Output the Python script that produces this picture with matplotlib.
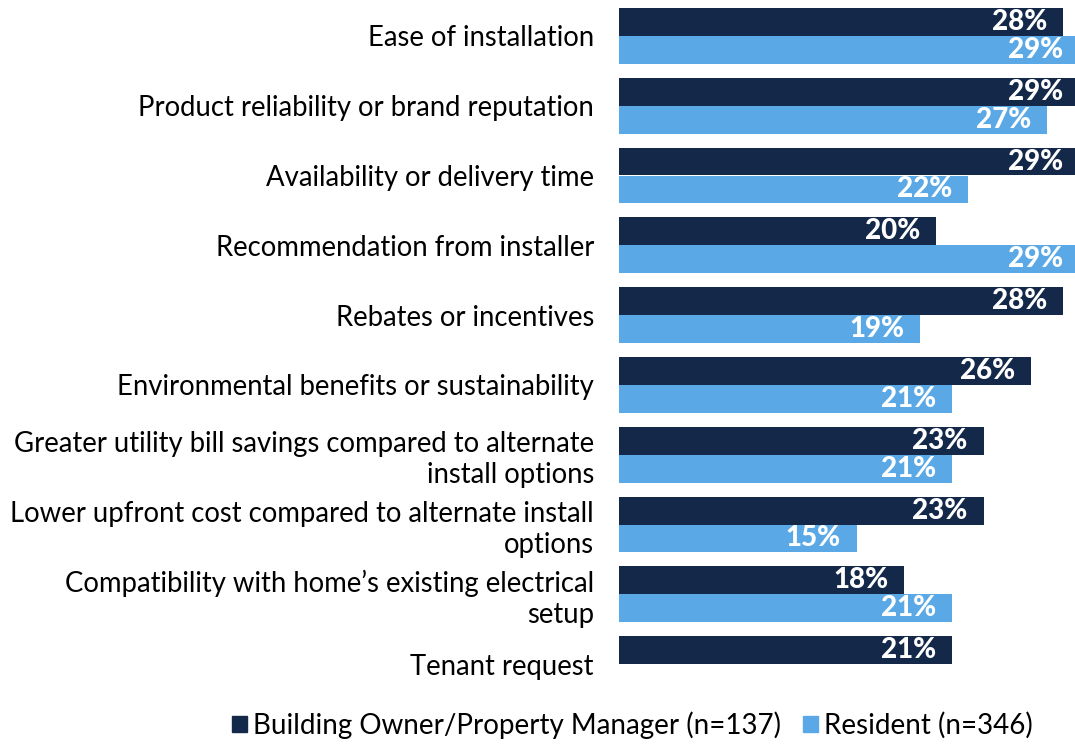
import numpy as np
import matplotlib.pyplot as plt
from matplotlib.patches import Patch

plt.rcParams["font.family"] = ["Lato", "DejaVu Sans"]

categories = [
    "Ease of installation",
    "Product reliability or brand reputation",
    "Availability or delivery time",
    "Recommendation from installer",
    "Rebates or incentives",
    "Environmental benefits or sustainability",
    "Greater utility bill savings compared to alternate\ninstall options",
    "Lower upfront cost compared to alternate install\noptions",
    "Compatibility with home\u2019s existing electrical\nsetup",
    "Tenant request",
]
owner = [28, 29, 29, 20, 28, 26, 23, 23, 18, 21]
resident = [29, 27, 22, 29, 19, 21, 21, 15, 21, None]

owner_label = "Building Owner/Property Manager (n=137)"
resident_label = "Resident (n=346)"
dark = "#14284a"
light = "#5aa9e6"

fig = plt.figure(figsize=(10.75, 7.44), dpi=100)
ax = fig.add_axes([619 / 1075, 1 - 699 / 744, 1 - 619 / 1075, 698 / 744])

y = np.arange(len(categories))
h = 0.4
ax.barh(y - h / 2, owner, height=h, color=dark)
res_y = [yy + h / 2 for yy, v in zip(y, resident) if v is not None]
res_v = [v for v in resident if v is not None]
ax.barh(res_y, res_v, height=h, color=light)

for yy, v in zip(y - h / 2, owner):
    ax.text(v - 1.0, yy, f"{v}%", ha="right", va="center", color="white",
            fontsize=20, fontweight="black")
for yy, v in zip(res_y, res_v):
    ax.text(v - 1.0, yy, f"{v}%", ha="right", va="center", color="white",
            fontsize=20, fontweight="black")

ax.set_xlim(0, 28.77)
ax.set_ylim(len(categories) - 0.5, -0.5)
ax.set_yticks(y)
ax.set_yticklabels(categories, fontsize=19.8, linespacing=1.23)
ax.tick_params(axis="y", length=0, pad=18)
ax.set_xticks([])
for s in ax.spines.values():
    s.set_visible(False)

handles = [Patch(color=dark, label=owner_label), Patch(color=light, label=resident_label)]
fig.legend(handles=handles, loc="center", bbox_to_anchor=(632 / 1075, 1 - 725 / 744),
           ncol=2, frameon=False, fontsize=20, handlelength=0.55, handleheight=0.55,
           handletextpad=0.2, columnspacing=0.8)

fig.savefig("out.png", dpi=100)
